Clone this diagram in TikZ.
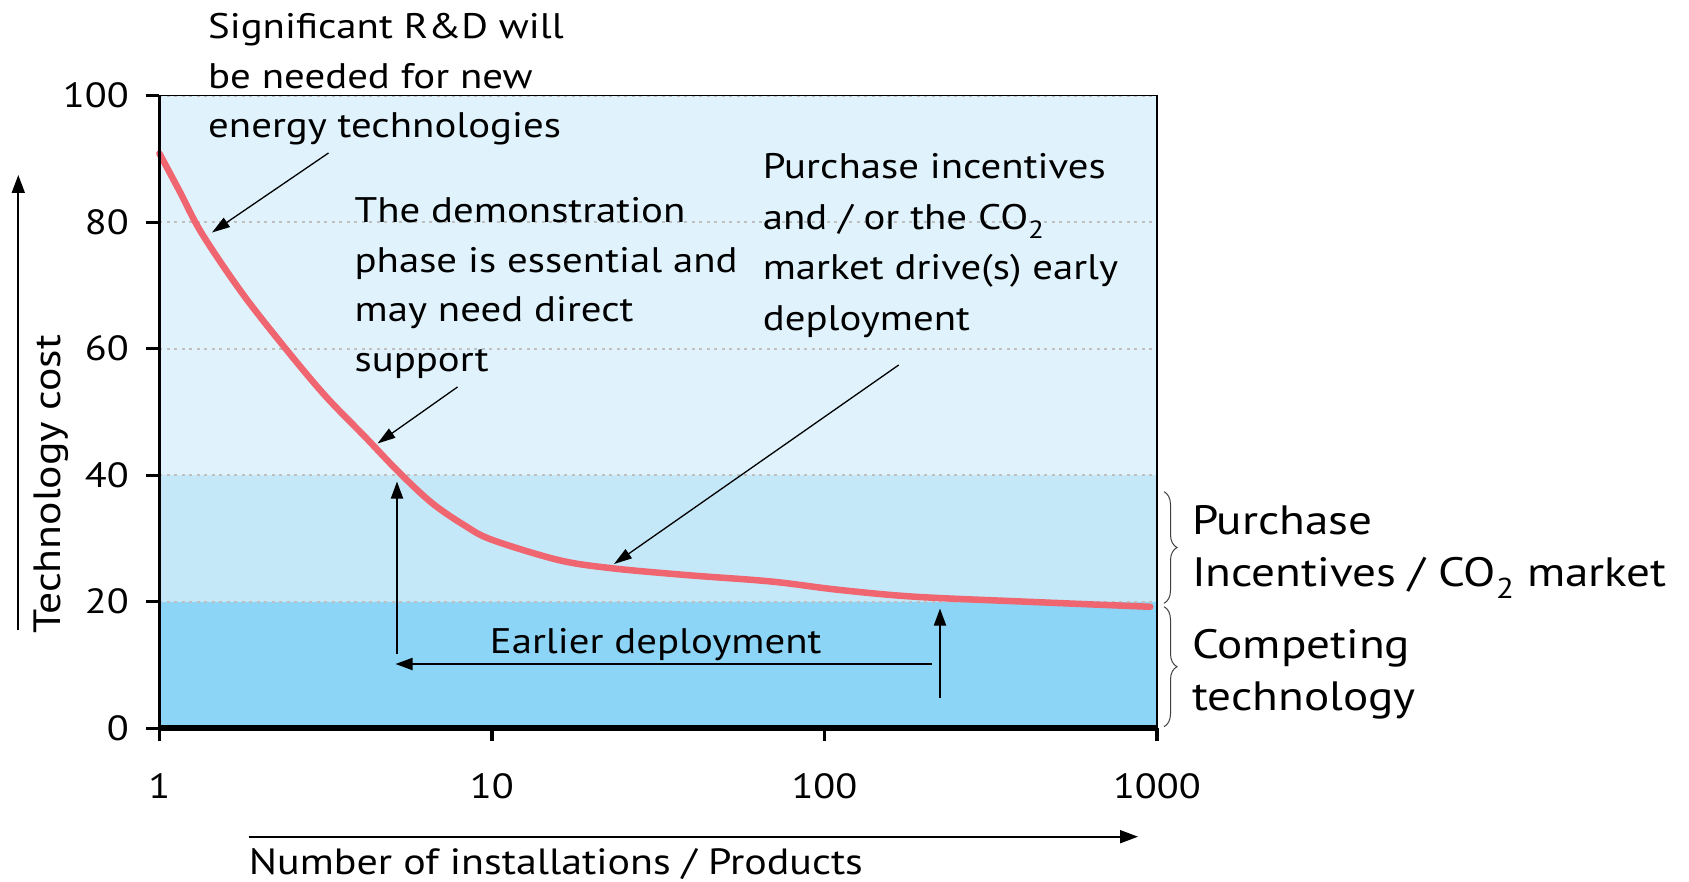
\documentclass[tikz,border=0pt]{standalone}
\usepackage{fontspec}
\setmainfont{PT Sans}[FakeStretch=1.15]
\usetikzlibrary{arrows.meta,decorations.pathreplacing}
\definecolor{bgtop}{HTML}{E0F3FD}
\definecolor{bgmid}{HTML}{C5E8F8}
\definecolor{bgbot}{HTML}{8CD5F6}
\definecolor{curvered}{HTML}{EF6570}
\definecolor{gridgray}{HTML}{BFBFBF}
\begin{document}
\begin{tikzpicture}[x=1pt,y=-1pt,
  anntext/.style={inner sep=0pt,anchor=north west,align=left,font=\fontsize{35.5}{49.5}\selectfont},
  sidetext/.style={inner sep=0pt,anchor=north west,align=left,font=\fontsize{41}{52.5}\selectfont},
  axtext/.style={inner sep=0pt,font=\fontsize{36.5}{46}\selectfont},
  ticktext/.style={inner sep=0pt,font=\fontsize{35}{42}\selectfont},
  thinarrow/.style={-{Triangle[length=18pt,width=11pt]},line width=1.3pt},
  deparrow/.style={-{Triangle[length=17pt,width=12pt]},line width=1.8pt},
  axarrow/.style={-{Triangle[length=18pt,width=13pt]},line width=1.8pt},
  bracestyle/.style={decorate,decoration={brace,amplitude=13pt},line width=1pt,black!75}]
\useasboundingbox (0,0) rectangle (1689,882);
\fill[white] (0,0) rectangle (1689,882);
\begin{scope}[shift={(159.4,728.2)},x={(332.5pt,0pt)},y={(0pt,6.323pt)}]
  \fill[bgtop] (0,40) rectangle (3,100);
  \fill[bgmid] (0,20) rectangle (3,40);
  \fill[bgbot] (0,0) rectangle (3,20);
  \foreach \v in {20,40,60,80,100}
    \draw[gridgray,line width=2.2pt,dash pattern=on 3pt off 4.5pt] (0,\v) -- (3,\v);
  \draw[line width=1.2pt] (0,100) -- (3,100) -- (3,0);
  \draw[curvered,line width=6.5pt,line cap=round] plot[smooth,tension=0.55] coordinates
    {(0,90.9) (0.06,85) (0.127,78.3) (0.249,68.8) (0.38,60) (0.5,52.5) (0.62,46) (0.72,40.5) (0.82,35.6) (0.92,32) (1.0,29.8) (1.2,26.6) (1.36,25.3) (1.59,24.2) (1.84,23.2) (2.04,21.9) (2.27,20.8) (2.61,20) (2.98,19.2)};
  \draw[line width=3.2pt] (0,-0.4) -- (0,100);
  \draw[line width=5.5pt] (0,0) -- (3,0);
  \foreach \v in {0,20,...,100}
    \draw[line width=3.2pt] (0,\v) -- ++(-13pt,0pt);
  \foreach \l in {0,1,2,3}
    \draw[line width=3.2pt] (\l,0) -- ++(0pt,-13pt);
\end{scope}
% y tick labels
\foreach \v in {0,20,40,60,80,100}{
  \pgfmathsetmacro{\yy}{728.2-6.323*\v+12}
  \node[ticktext,anchor=base east] (ylab\v) at (129,\yy) {\v};
}
% x tick labels
\node[ticktext,anchor=base] (xlab1) at (159.4,798.3) {1};
\node[ticktext,anchor=base] (xlab10) at (491.9,798.3) {10};
\node[ticktext,anchor=base] (xlab100) at (824.4,798.3) {100};
\node[ticktext,anchor=base] (xlab1000) at (1156.9,798.3) {1000};
% axis titles
\node[axtext,font=\fontsize{38}{46}\selectfont,rotate=90,anchor=base] (ytitle) at (60,484) {Technology cost};
\coordinate (yarrS) at (18.3,630);
\coordinate (yarrE) at (18.3,175);
\draw[axarrow] (yarrS) -- (yarrE);
\node[axtext,anchor=base west] (xtitle) at (248.7,874.5) {Number of installations / Products};
\coordinate (xarrS) at (248.7,836.7);
\coordinate (xarrE) at (1138,836.7);
\draw[axarrow] (xarrS) -- (xarrE);
% annotations
\node[anntext] (ann1) at (208,13.5) {Significant R\&D will\\be needed for new\\energy technologies};
\node[anntext] (ann2) at (354.4,197.5) {The demonstration\\phase is essential and\\may need direct\\support};
\node[anntext,font=\fontsize{35.5}{50.5}\selectfont] (ann3) at (762.6,153.5) {Purchase incentives\\and / or the CO\textsubscript{2}\\market drive(s) early\\deployment};
\coordinate (a1s) at (328.5,153);
\coordinate (a1e) at (212,232.5);
\draw[thinarrow] (a1s) -- (a1e);
\coordinate (a2s) at (457.5,387);
\coordinate (a2e) at (377.5,443.5);
\draw[thinarrow] (a2s) -- (a2e);
\coordinate (a3s) at (898.7,365);
\coordinate (a3e) at (614,564);
\draw[thinarrow] (a3s) -- (a3e);
% earlier deployment
\coordinate (v1s) at (397,654);
\coordinate (v1e) at (397,481.5);
\draw[deparrow] (v1s) -- (v1e);
\coordinate (hs) at (932,664);
\coordinate (he) at (395.5,664);
\draw[deparrow] (hs) -- (he);
\coordinate (v2s) at (940,698);
\coordinate (v2e) at (940,608.5);
\draw[deparrow] (v2s) -- (v2e);
\node[axtext,font=\fontsize{35.5}{46}\selectfont,anchor=base west] (earlier) at (489.7,653.3) {Earlier deployment};
% braces
\coordinate (b1t) at (1164,491.7);
\coordinate (b1b) at (1164,603.3);
\draw[bracestyle] (b1t) -- (b1b);
\coordinate (b2t) at (1164,606.7);
\coordinate (b2b) at (1164,726.7);
\draw[bracestyle] (b2t) -- (b2b);
\node[sidetext] (side1) at (1192,505) {Purchase\\Incentives / CO\textsubscript{2} market};
\node[sidetext] (side2) at (1192,629) {Competing\\technology};
\end{tikzpicture}
\end{document}
